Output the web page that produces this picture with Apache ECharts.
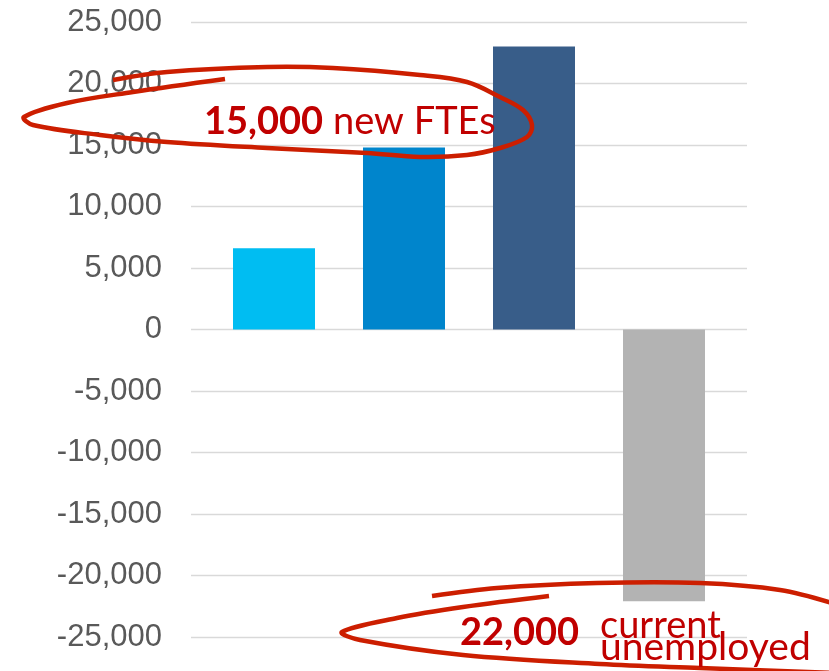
<!DOCTYPE html>
<html>
<head>
    <meta charset="utf-8">
    <title>FTEs vs unemployed</title>
    <script src="https://cdn.jsdelivr.net/npm/echarts@6/dist/echarts.min.js"></script>
    <style>
        html, body { margin: 0; padding: 0; background: #fff; }
        #main { width: 829px; height: 671px; }
    </style>
</head>
<body>
<div id="main"></div>
<script>
    // data
    var categories = ['A', 'B', 'C', 'D'];
    var values = [6600, 14800, 23000, -22100];
    var barColors = ['#00BDF2', '#0085CC', '#385D89', '#B3B3B3'];
    var yTicks = [-25000, 25000, 5000]; // min, max, step

    var red = '#CC1E00';
    var textRed = '#C00000';

    var myChart = echarts.init(document.getElementById('main'));

    var option = {
        animation: false,
        // grid 0 holds the bars, grid 1 only draws labels + gridlines (wider)
        grid: [
            { left: 209, right: 100, top: 22, bottom: 34 },
            { left: 191, right: 82, top: 22, bottom: 34 }
        ],
        xAxis: [
            { type: 'category', gridIndex: 0, data: categories, show: false },
            { type: 'category', gridIndex: 1, data: categories, show: false }
        ],
        yAxis: [
            { type: 'value', gridIndex: 0, min: yTicks[0], max: yTicks[1], interval: yTicks[2], show: false },
            {
                type: 'value', gridIndex: 1, min: yTicks[0], max: yTicks[1], interval: yTicks[2],
                axisLine: { show: false },
                axisTick: { show: false },
                axisLabel: {
                    margin: 29,
                    color: '#595959',
                    fontSize: 31,
                    fontFamily: 'Liberation Sans, Arial',
                    formatter: function (v) { return v.toLocaleString('en-US'); }
                },
                splitLine: { lineStyle: { color: '#D9D9D9', width: 1.3 } }
            }
        ],
        series: [{
            type: 'bar',
            xAxisIndex: 0,
            yAxisIndex: 0,
            barWidth: 82,
            data: values.map(function (v, i) {
                return { value: v, itemStyle: { color: barColors[i] } };
            })
        }],
        graphic: [
            // upper hand-drawn loop
            {
                type: 'polyline', z: 100,
                shape: {
                    smooth: 0.35,
                    points: [[225, 79], [133, 92], [67, 103], [24, 117], [33, 125], [100, 135],
                        [167, 142], [267, 148], [367, 153], [420, 157], [467, 155], [500, 148],
                        [527, 137], [532, 125], [523, 110], [500, 97], [467, 82], [420, 75],
                        [333, 68], [267, 67], [167, 72], [113, 80]]
                },
                style: { stroke: red, lineWidth: 4.5, fill: null }
            },
            {
                type: 'text', z: 101, x: 204, y: 122,
                style: { text: '15,000', verticalAlign: 'middle', font: 'bold 38px Lato', fill: textRed }
            },
            {
                type: 'text', z: 101, x: 333, y: 122,
                style: { text: 'new FTEs', verticalAlign: 'middle', font: '38px Lato', fill: textRed }
            },
            // lower hand-drawn loop (runs off the right edge)
            {
                type: 'polyline', z: 100,
                shape: {
                    smooth: 0.35,
                    points: [[549, 596], [463, 607], [397, 618], [342, 632], [360, 640],
                        [463, 655], [600, 664], [700, 668], [835, 673]]
                },
                style: { stroke: red, lineWidth: 4.5, fill: null }
            },
            {
                type: 'polyline', z: 100,
                shape: {
                    smooth: 0.35,
                    points: [[835, 604], [780, 590], [700, 583], [597, 583], [497, 588], [432, 596]]
                },
                style: { stroke: red, lineWidth: 4.5, fill: null }
            },
            {
                type: 'text', z: 101, x: 460, y: 633,
                style: { text: '22,000', verticalAlign: 'middle', font: 'bold 38px Lato', fill: textRed }
            },
            {
                type: 'text', z: 101, x: 600, y: 626,
                style: { text: 'current', verticalAlign: 'middle', font: '38px Lato', fill: textRed }
            },
            {
                type: 'text', z: 101, x: 600, y: 647,
                style: { text: 'unemployed', verticalAlign: 'middle', font: '39px Lato', fill: textRed }
            }
        ]
    };

    myChart.setOption(option);
</script>
</body>
</html>
